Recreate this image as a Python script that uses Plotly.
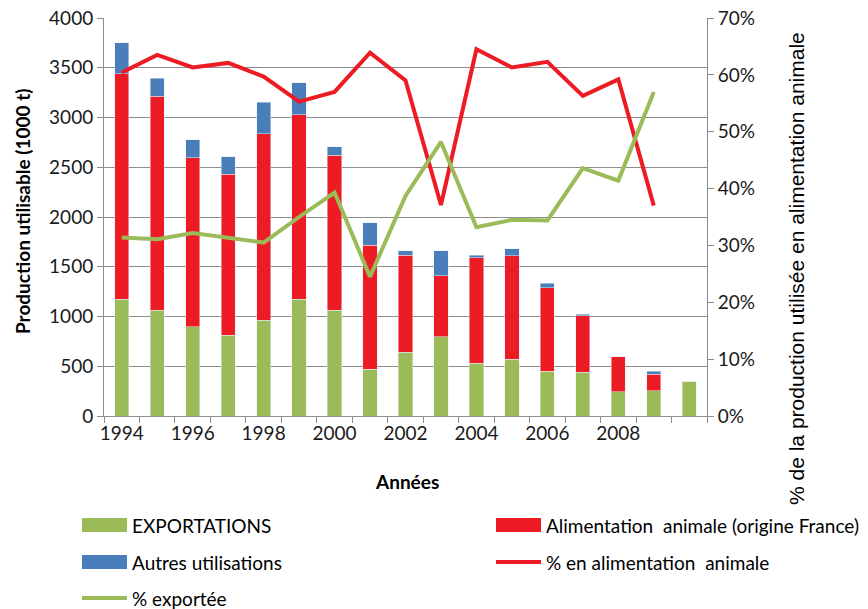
import plotly.graph_objects as go

years = list(range(1994, 2011))
exportations = [1174, 1064, 897, 810, 964, 1174, 1064, 472, 641, 797, 532, 572, 452, 442, 244, 254, 351]
alimentation = [2266, 2152, 1700, 1620, 1874, 1855, 1556, 1245, 975, 612, 1058, 1038, 836, 565, 352, 165, 0]
autres = [312, 181, 177, 177, 315, 321, 88, 224, 47, 254, 26, 73, 44, 14, 0, 30, 0]

line_years = list(range(1994, 2010))
pct_alim = [60.4, 63.5, 61.3, 62.1, 59.7, 55.3, 57.0, 63.9, 59.0, 37.1, 64.5, 61.3, 62.3, 56.3, 59.2, 37.0]
pct_export = [31.4, 31.1, 32.2, 31.3, 30.5, 35.0, 39.3, 24.5, 38.7, 48.2, 33.2, 34.5, 34.4, 43.6, 41.4, 57.0]

x_tick_labels = ["1994", "1996", "1998", "2000", "2002", "2004", "2006", "2008"]
x_tick_vals = [int(t) for t in x_tick_labels]

GREEN = "#9BBB59"
RED = "#ED1C24"
BLUE = "#4A7EBB"
GRID = "#8C8C8C"
FONT = "Lato"

OFF = 8  # page body margin
W, H = 868 - OFF, 609 - OFF
L, R, T, B = 104 - OFF, 707 - OFF, 18 - OFF, 416 - OFF

def px(xs):
    return (xs - OFF - L) / (R - L)

def py(ys):
    return (B - (ys - OFF)) / (B - T)

fig = go.Figure()
fig.add_bar(x=years, y=exportations, name="EXPORTATIONS", marker_color=GREEN, width=0.4)
fig.add_bar(x=years, y=alimentation, name="Alimentation  animale (origine France)", marker_color=RED, width=0.4)
fig.add_bar(x=years, y=autres, name="Autres utilisations", marker_color=BLUE, width=0.4)
fig.add_scatter(x=line_years, y=[v / 100 for v in pct_alim], name="% en alimentation  animale",
                mode="lines", line=dict(color=RED, width=4), yaxis="y2")
fig.add_scatter(x=line_years, y=[v / 100 for v in pct_export], name="% exportée",
                mode="lines", line=dict(color=GREEN, width=4), yaxis="y2")

fig.update_layout(
    width=W, height=H,
    margin=dict(l=L, r=W - R, t=T, b=H - B, autoexpand=False),
    barmode="stack",
    showlegend=False,
    plot_bgcolor="white", paper_bgcolor="white",
    font=dict(family=FONT, size=19, color="#1a1a1a"),
    xaxis=dict(
        range=[1993.5, 2010.5], automargin=False,
        tickvals=x_tick_vals, ticktext=x_tick_labels,
        ticks="", showgrid=False, zeroline=False,
        showline=True, linecolor=GRID, linewidth=1,
        tickfont=dict(size=19),
        minor=dict(ticks="outside", tick0=1993.5, dtick=1, ticklen=6, tickcolor=GRID, showgrid=False),
    ),
    yaxis=dict(
        range=[0, 4000], dtick=500, automargin=False,
        showgrid=True, gridcolor=GRID, gridwidth=1,
        zeroline=False, showline=True, linecolor=GRID,
        ticks="outside", ticklen=6, tickcolor=GRID,
        tickfont=dict(size=19), ticklabeloverflow="allow",
    ),
    yaxis2=dict(
        range=[0, 0.7], dtick=0.1, tickformat=".0%", automargin=False,
        overlaying="y", side="right",
        showgrid=False, zeroline=False, showline=True, linecolor=GRID,
        ticks="outside", ticklen=6, tickcolor=GRID,
        tickfont=dict(size=19), ticklabeloverflow="allow",
    ),
)

annotations = [
    dict(text="<b>Production utilisable (1000 t)</b>", x=px(22), y=py(212), xref="paper", yref="paper",
         textangle=-90, showarrow=False, font=dict(size=19, color="#000"), xanchor="center", yanchor="middle"),
    dict(text="% de la production utilisée en alimentation animale", x=px(796), y=py(269),
         xref="paper", yref="paper", textangle=-90, showarrow=False,
         font=dict(family="Liberation Sans, Arial", size=21, color="#000"), xanchor="center", yanchor="middle"),
    dict(text="<b>Années</b>", x=px(407), y=py(481), xref="paper", yref="paper", showarrow=False,
         font=dict(size=19, color="#000"), xanchor="center", yanchor="middle"),
]

legend_items = [
    ("EXPORTATIONS", "rect", GREEN, 82, 525),
    ("Alimentation  animale (origine France)", "rect", RED, 496, 525),
    ("Autres utilisations", "rect", BLUE, 82, 562),
    ("% en alimentation  animale", "line", RED, 496, 562),
    ("% exportée", "line", GREEN, 82, 598),
]
shapes = []
for label, kind, color, x0, yc in legend_items:
    if kind == "rect":
        shapes.append(dict(type="rect", xref="paper", yref="paper", x0=px(x0), x1=px(x0 + 45),
                           y0=py(yc + 7), y1=py(yc - 7), fillcolor=color, line=dict(width=0)))
    else:
        shapes.append(dict(type="line", xref="paper", yref="paper", x0=px(x0), x1=px(x0 + 45),
                           y0=py(yc), y1=py(yc), line=dict(color=color, width=4)))
    annotations.append(dict(text=label, x=px(x0 + 48), y=py(yc), xref="paper", yref="paper",
                            showarrow=False, xanchor="left", yanchor="middle",
                            font=dict(family=FONT, size=19, color="#000")))

fig.update_layout(annotations=annotations, shapes=shapes)
fig.write_html("out.html")
